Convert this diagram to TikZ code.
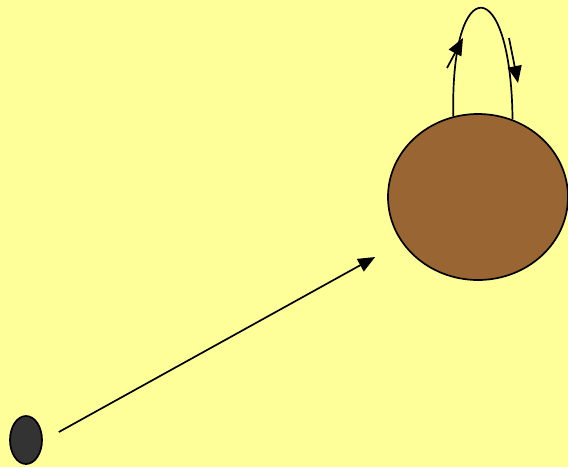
\documentclass[tikz,border=0pt]{standalone}
\usepackage{xcolor}
\usetikzlibrary{
    positioning,
    arrows.meta,
    shapes.geometric
}
\definecolor{paper}{HTML}{FFFF99}
\definecolor{earth}{HTML}{996633}
\definecolor{stone}{HTML}{333333}

\begin{document}
\begin{tikzpicture}[
    x=0.5pt, y=-0.5pt,
    line width=0.85pt,
    blob/.style={
        ellipse,
        draw,
        inner sep=0pt
    },
    arrow/.style={-{Triangle[length=8.5pt, width=7pt]}}
]

\fill[paper] (0,0) rectangle (568,467);
\useasboundingbox (0,0) rectangle (568,467);

\node[blob, fill=stone, minimum width=16pt, minimum height=24pt] (start) at (26,440) {};
\node[blob, fill=earth, minimum width=90pt, minimum height=83pt] (state) at (478,197) {};

\draw[arrow] ([shift={(16,-8)}]start.east) -- ([shift={(-12,60)}]state.west);

% loop on top of the state
\draw (state.107) .. controls (450,-29) and (511,-29) .. (state.66);
\coordinate (upfrom) at (447,68);
\coordinate (upto) at (463,38);
\coordinate (downfrom) at (509,38);
\coordinate (downto) at (518,83);
\draw[arrow] (upfrom) -- (upto);
\draw[arrow] (downfrom) -- (downto);

\end{tikzpicture}
\end{document}
